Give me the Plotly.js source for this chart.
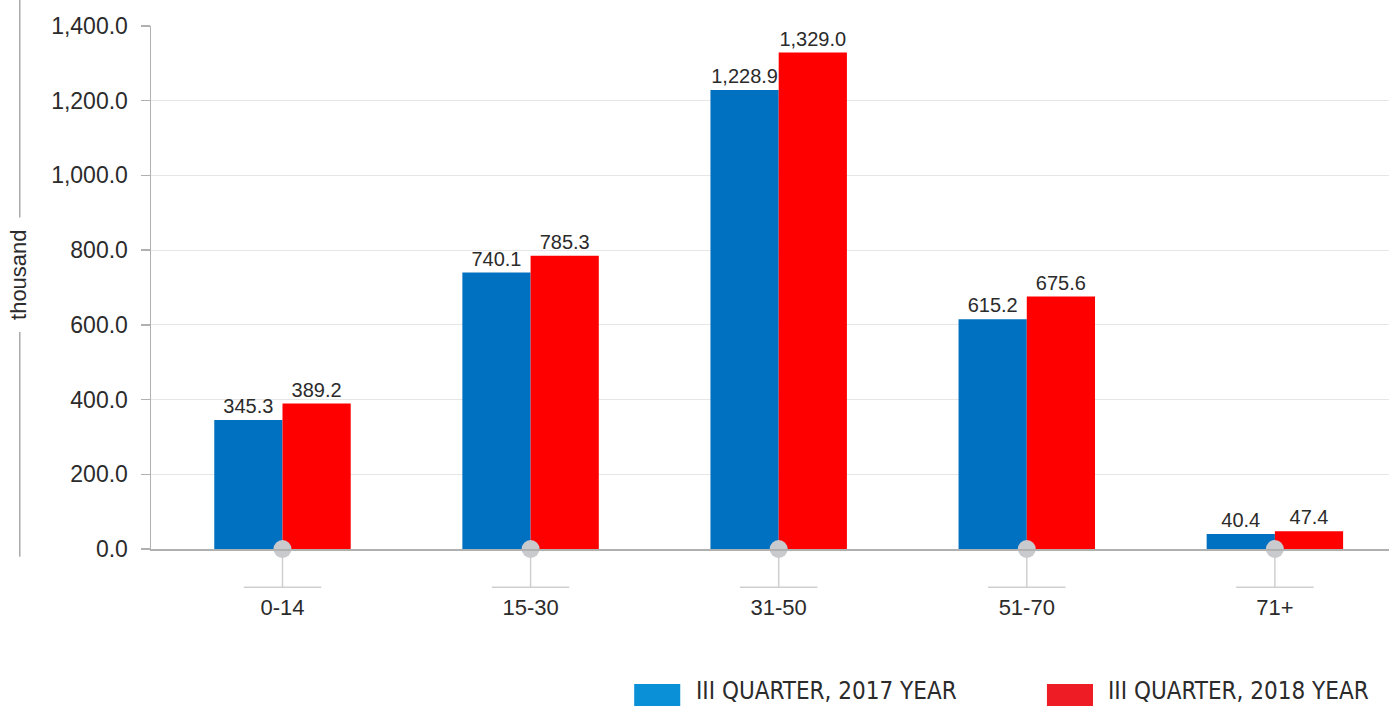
<!DOCTYPE html>
<html>
<head>
<meta charset="utf-8">
<script src="https://cdn.plot.ly/plotly-3.0.1.min.js"></script>
<style>html,body{margin:0;padding:0;background:#fff;}#chart{width:1389px;height:706px;}</style>
</head>
<body>
<div id="chart"></div>
<script>
const categories = ["0-14", "15-30", "31-50", "51-70", "71+"];
const series2017 = [345.3, 740.1, 1228.9, 615.2, 40.4];
const series2018 = [389.2, 785.3, 1329.0, 675.6, 47.4];
const seriesNames = ["III QUARTER, 2017 YEAR", "III QUARTER, 2018 YEAR"];
const yTitle = "thousand";

const barBlue = "#0070c0", barRed = "#ff0000";
const legBlue = "#0a90d6", legRed = "#ee1c25";
const txt = "#2b2b2b";
const font = "Liberation Sans, Arial, sans-serif";
const narrow = "Liberation Sans Narrow, DejaVu Sans Condensed, sans-serif";

const traces = [
  {type: "bar", x: categories, y: series2017, name: seriesNames[0], marker: {color: barBlue},
   text: series2017, texttemplate: "%{y:,.1f}", textposition: "outside", cliponaxis: false,
   textfont: {size: 20, color: txt, family: font}, hoverinfo: "x+y", showlegend: false},
  {type: "bar", x: categories, y: series2018, name: seriesNames[1], marker: {color: barRed},
   text: series2018, texttemplate: "%{y:,.1f}", textposition: "outside", cliponaxis: false,
   textfont: {size: 20, color: txt, family: font}, hoverinfo: "x+y", showlegend: false},
  {type: "scatter", mode: "markers", x: categories, y: categories.map(() => 0),
   marker: {size: 18, color: "#c9cacd"}, cliponaxis: false, hoverinfo: "skip", showlegend: false}
];

const shapes = [];
categories.forEach((c, i) => {
  shapes.push({type: "line", xref: "x", yref: "paper", x0: i, x1: i, y0: 0, y1: -0.073,
    line: {color: "#cfcfcf", width: 1.5}, layer: "below"});
  shapes.push({type: "line", xref: "x", yref: "paper", x0: i - 0.156, x1: i + 0.156, y0: -0.073, y1: -0.073,
    line: {color: "#cfcfcf", width: 1.5}, layer: "below"});
});
// y-title side line
shapes.push({type: "line", xref: "paper", yref: "paper", x0: -0.106, x1: -0.106, y0: 1.05, y1: 0.634,
  line: {color: "#aaaaaa", width: 1.5}});
shapes.push({type: "line", xref: "paper", yref: "paper", x0: -0.106, x1: -0.106, y0: 0.415, y1: -0.015,
  line: {color: "#aaaaaa", width: 1.5}});
// legend swatches
shapes.push({type: "rect", xref: "paper", yref: "paper", x0: 0.3903, x1: 0.4275, y0: -0.302, y1: -0.258,
  fillcolor: legBlue, line: {width: 0}});
shapes.push({type: "rect", xref: "paper", yref: "paper", x0: 0.7237, x1: 0.7609, y0: -0.302, y1: -0.258,
  fillcolor: legRed, line: {width: 0}});

const annotations = [
  {xref: "paper", yref: "paper", x: -0.107, y: 0.525, xanchor: "center", yanchor: "middle", text: yTitle,
   textangle: -90, showarrow: false, font: {size: 22, color: txt, family: font}},
  {xref: "paper", yref: "paper", x: 0.4385, y: -0.271, xanchor: "left", yanchor: "middle", text: seriesNames[0],
   showarrow: false, font: {size: 24, color: txt, family: narrow}},
  {xref: "paper", yref: "paper", x: 0.7714, y: -0.271, xanchor: "left", yanchor: "middle", text: seriesNames[1],
   showarrow: false, font: {size: 24, color: txt, family: narrow}}
];

const layout = {
  width: 1389, height: 706,
  margin: {l: 151, r: 0, t: 26, b: 157},
  paper_bgcolor: "#fff", plot_bgcolor: "#fff",
  barmode: "group", bargap: 0.45, bargroupgap: 0,
  font: {family: font, color: txt},
  xaxis: {type: "category", range: [-0.53, 4.46], showgrid: false, showline: true, linecolor: "#b0b0b0",
    linewidth: 1.5, ticks: "", tickfont: {size: 22, color: txt}, ticklabelstandoff: 38, zeroline: false},
  yaxis: {range: [0, 1400], tickvals: [0, 200, 400, 600, 800, 1000, 1200, 1400], tickformat: ",.1f",
    showgrid: true, gridcolor: "#e6e6e6", gridwidth: 1.2, showline: true, linecolor: "#b0b0b0", linewidth: 1.5,
    ticks: "outside", ticklen: 9, tickcolor: "#b0b0b0", tickwidth: 1.5, ticklabelstandoff: 8,
    tickfont: {size: 23, color: txt}, zeroline: false},
  shapes: shapes, annotations: annotations, showlegend: false
};

Plotly.newPlot("chart", traces, layout, {displayModeBar: false, staticPlot: true});
</script>
</body>
</html>
